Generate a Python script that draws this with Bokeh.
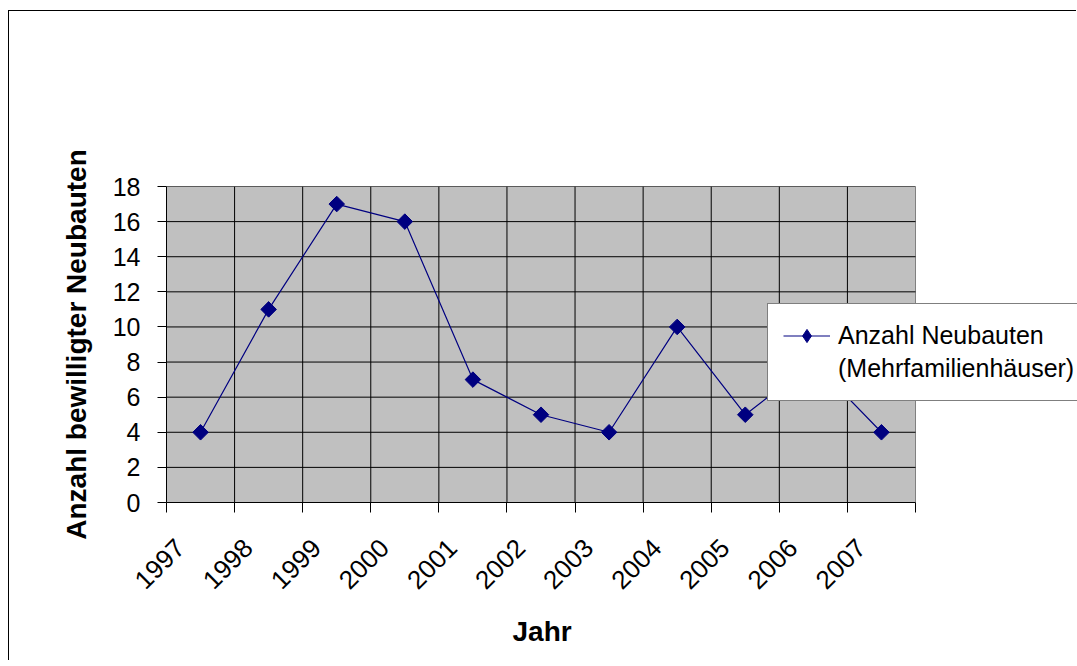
from math import pi
from bokeh.plotting import figure
from bokeh.models import FixedTicker, Range1d, Legend, LegendItem, Title
from bokeh.embed import file_html
from bokeh.resources import INLINE

# ---- data ----
years = ["1997", "1998", "1999", "2000", "2001", "2002", "2003", "2004", "2005", "2006", "2007"]
values = [4, 11, 17, 16, 7, 5, 4, 10, 5, 8, 4]
y_ticks = [0, 2, 4, 6, 8, 10, 12, 14, 16, 18]
series_label = ["Anzahl Neubauten", "(Mehrfamilienhäuser)"]
x_title = "Jahr"
y_title = "Anzahl bewilligter Neubauten"

# ---- geometry of category axis ----
CAT = 20
n = len(years)
xs = [CAT * i + CAT // 2 for i in range(n)]
boundaries = [CAT * i for i in range(n + 1)]
label_pos = [CAT * i + 4 for i in range(n)]
x_end_area = CAT * n
x_end_view = x_end_area * 911 / 749   # frame continues to the right edge

FONT = "Liberation Sans"
NAVY = "#000080"

p = figure(width=1068, height=650, output_backend="svg", toolbar_location=None,
           x_range=Range1d(0, x_end_view), y_range=Range1d(y_ticks[0], y_ticks[-1]),
           min_border_left=157, min_border_right=0, min_border_top=175,
           min_border_bottom=159,
           background_fill_color="white", border_fill_color="white")
p.styles = {"margin-left": "8px", "margin-top": "10px",
            "border-left": "1px solid black", "border-top": "1px solid black"}
p.outline_line_color = None
p.xgrid.visible = False
p.ygrid.visible = False

# plot area and grid lines
p.quad(left=[boundaries[0]], right=[boundaries[-1]], bottom=[y_ticks[0]], top=[y_ticks[-1]],
       fill_color="#C0C0C0", line_color="#808080", line_width=1)
p.segment(x0=boundaries[1:-1], x1=boundaries[1:-1],
          y0=[y_ticks[0]] * (n - 1), y1=[y_ticks[-1]] * (n - 1),
          line_color="black", line_width=1)
p.segment(x0=[boundaries[0]] * (len(y_ticks) - 1), x1=[boundaries[-1]] * (len(y_ticks) - 1),
          y0=y_ticks[1:], y1=y_ticks[1:], line_color="black", line_width=1)

# x axis
xa = p.xaxis[0]
xa.bounds = (boundaries[0], boundaries[-1])
xa.ticker = FixedTicker(ticks=label_pos, minor_ticks=boundaries)
xa.major_label_overrides = {lp: y for lp, y in zip(label_pos, years)}
xa.major_label_orientation = pi / 4
xa.major_tick_out = 0
xa.major_tick_in = 0
xa.minor_tick_out = 10
xa.minor_tick_in = 0
xa.minor_tick_line_color = "black"
xa.axis_line_color = "black"
xa.major_label_standoff = 31
xa.major_label_text_font = FONT
xa.major_label_text_font_size = "26px"
xa.major_label_text_color = "black"

p.add_layout(Title(text=x_title, align="left", offset=346, standoff=26,
                   text_font=FONT, text_font_style="bold", text_font_size="28px",
                   text_color="black"), "below")

# y axis
ya = p.yaxis[0]
ya.ticker = FixedTicker(ticks=y_ticks)
ya.major_tick_out = 9
ya.major_tick_in = 0
ya.minor_tick_line_color = None
ya.axis_line_color = "black"
ya.major_label_standoff = 17
ya.major_label_text_font = FONT
ya.major_label_text_font_size = "25px"
ya.major_label_text_color = "black"
ya.axis_label = y_title
ya.axis_label_text_font = FONT
ya.axis_label_text_font_style = "bold"
ya.axis_label_text_font_size = "28px"
ya.axis_label_text_color = "black"
ya.axis_label_standoff = 18

# series
lr = p.line(xs, values, line_color=NAVY, line_width=1.2)
# small diamonds hidden under the point markers; they provide the legend's diamond glyph
leg_marker = p.scatter(xs, values, marker="diamond", size=4, fill_color=NAVY, line_color=NAVY)
sr = p.scatter(xs, values, marker="square", angle=pi / 4, size=11,
               fill_color=NAVY, line_color=NAVY)
dummy = p.line(x=[], y=[], line_alpha=0)

legend = Legend(items=[LegendItem(label=series_label[0], renderers=[lr, leg_marker]),
                       LegendItem(label=series_label[1], renderers=[dummy])],
                location=(601, 101), orientation="vertical",
                border_line_color="black", border_line_width=1,
                background_fill_color="white", background_fill_alpha=1,
                label_text_font=FONT, label_text_font_size="25px",
                label_text_color="black",
                padding=15, spacing=0, margin=0,
                glyph_width=47, glyph_height=33, label_height=33,
                label_standoff=8)
p.add_layout(legend)

open("out.html", "w").write(file_html(p, INLINE))
